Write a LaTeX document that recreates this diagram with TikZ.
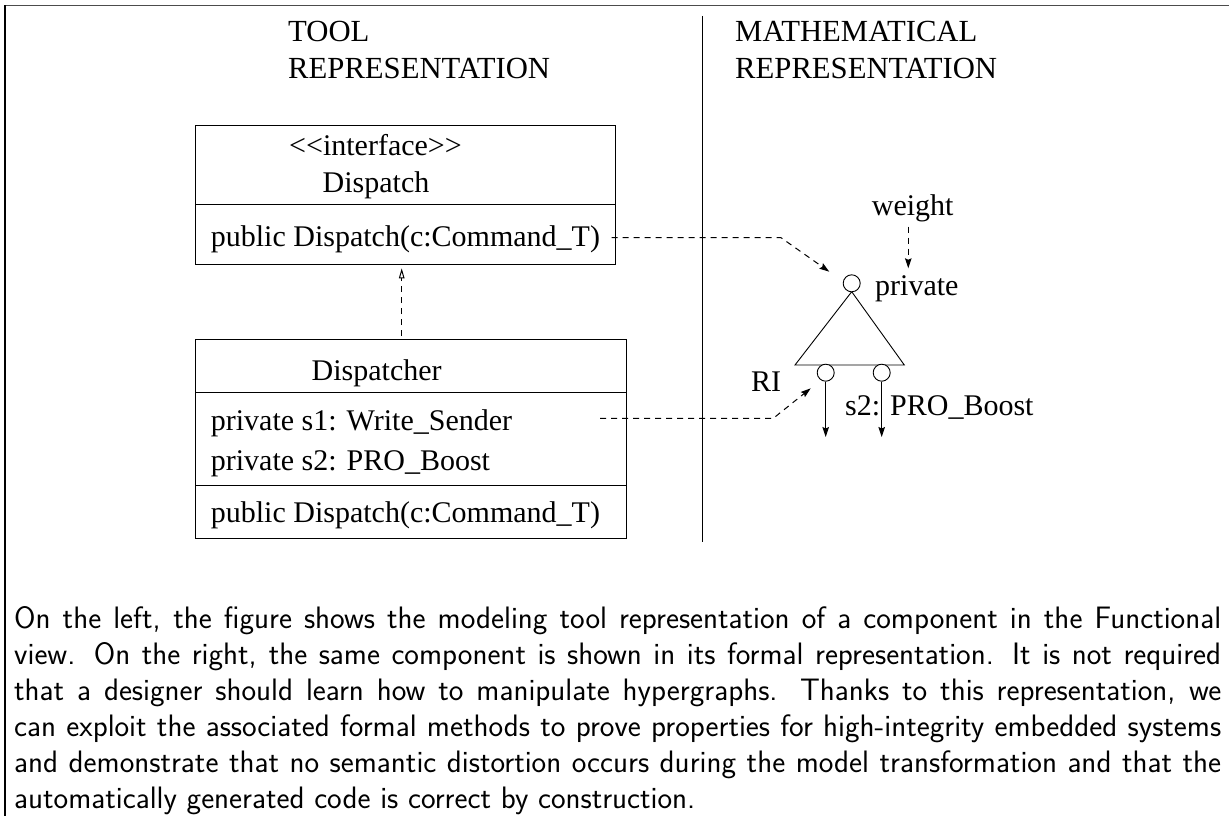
\documentclass[tikz,border=0pt]{standalone}
\usepackage{fontspec}
\setmainfont{Liberation Serif}
\usetikzlibrary{arrows.meta}
\newfontfamily\capfont{Latin Modern Sans}
\newcommand{\capl}[1]{\hbox to 1207pt{#1}}
\tikzset{
  x=1pt,y=-1pt,
  lbl/.style={anchor=base west,inner sep=0pt,font=\fontsize{30}{30}\selectfont},
  hdg/.style={anchor=base west,inner sep=0pt,font=\fontsize{30.7}{30}\selectfont},
  ctr/.style={anchor=base,inner sep=0pt,font=\fontsize{30}{30}\selectfont},
  capline/.style={anchor=base west,inner sep=0pt,font=\capfont\fontsize{31}{36}\selectfont},
  ln/.style={line width=1pt,draw=black},
  dsh/.style={line width=1pt,draw=black,dash pattern=on 6pt off 5pt},
  solidtip/.style={-{Stealth[length=10pt,width=6.5pt,inset=1.5pt]}},
  opentip/.style={-{Stealth[open,length=10pt,width=5.5pt,inset=0pt]}},
  port/.style={circle,draw=black,line width=0.9pt,minimum size=17pt,inner sep=0pt}
}
\begin{document}
\begin{tikzpicture}
\useasboundingbox (0,0) rectangle (1229,816);
\draw[line width=1.4pt,draw=black!70] (5,5.8) -- (1229,5.8);
\draw[line width=1.2pt] (5,5.2) -- (5,816);
\node[hdg] (t1) at (288,42) {TOOL};
\node[hdg] (t2) at (288,78) {REPRESENTATION};
\node[hdg] (t3) at (735,42) {MATHEMATICAL};
\node[hdg] (t4) at (735,78) {REPRESENTATION};
\draw[ln] (702,16) -- (702,542);
% box 1
\node[draw=black,line width=1pt,minimum width=420pt,minimum height=138.6pt,inner sep=0pt] (b1) at (405.3,195) {};
\draw[ln] (195.3,204.3) -- (615.3,204.3);
\node[ctr] (b1a) at (375.5,155) {<{}<interface>{}>};
\node[ctr] (b1b) at (376,192.7) {Dispatch};
\node[lbl] (b1c) at (210.7,246) {public Dispatch(c:Command\_T)};
% box 2
\node[draw=black,line width=1pt,minimum width=431.4pt,minimum height=199pt,inner sep=0pt] (b2) at (411,438.8) {};
\draw[ln] (195.3,392) -- (626.7,392);
\draw[ln] (195.3,485.7) -- (626.7,485.7);
\node[ctr] (b2a) at (376.7,380.7) {Dispatcher};
\node[lbl] (b2b) at (210.7,430.7) {private s1: Write\_Sender};
\node[lbl] (b2c) at (210.7,470.7) {private s2: PRO\_Boost};
\node[lbl] (b2d) at (210.7,522.7) {public Dispatch(c:Command\_T)};
% realisation
\coordinate (r0) at (401.7,336);
\coordinate (r1) at (401.7,268.3);
\draw[dsh,opentip] (r0) -- (r1);
% triangle
\coordinate (ta) at (851.7,291.7);
\coordinate (tl) at (795,365);
\coordinate (tr) at (904.3,365);
\draw[line width=0.9pt] (ta) -- (tl) -- (tr) -- cycle;
\node[port,fill=white] (p0) at (851.7,283.3) {};
\node[port,fill=white] (p1) at (825.7,372.7) {};
\node[port,fill=white] (p2) at (881.7,372.7) {};
\coordinate (e1) at (825.7,437);
\coordinate (e2) at (881.7,437);
\draw[line width=0.9pt,solidtip] (p1) -- (e1);
\draw[line width=0.9pt,solidtip] (p2) -- (e2);
\node[lbl] (w) at (871.7,215) {weight};
\node[lbl] (pv) at (875,295) {private};
\node[lbl] (ri) at (751,391.7) {RI};
\node[lbl] (s2) at (845,415) {s2: PRO\_Boost};
% dashed
\coordinate (w0) at (908.3,226.7);
\coordinate (w1) at (908.3,268.3);
\draw[dsh,solidtip] (w0) -- (w1);
\coordinate (d0) at (611.7,237.7);
\coordinate (d1) at (781,237.7);
\coordinate (d2) at (829.3,271.7);
\draw[dsh,solidtip] (d0) -- (d1) -- (d2);
\coordinate (f0) at (600,418.3);
\coordinate (f1) at (773.3,418.3);
\coordinate (f2) at (810.7,388.3);
\draw[dsh,solidtip] (f0) -- (f1) -- (f2);
% caption
\node[capline] (c1) at (14,628) {\capl{On the left, the figure shows the modeling tool representation of a component in the Functional}};
\node[capline] (c2) at (14,664) {\capl{view. On the right, the same component is shown in its formal representation. It is not required}};
\node[capline] (c3) at (14,700) {\capl{that a designer should learn how to manipulate hypergraphs. Thanks to this representation, we}};
\node[capline] (c4) at (14,736) {\capl{can exploit the associated formal methods to prove properties for high-integrity embedded systems}};
\node[capline] (c5) at (14,772) {\capl{and demonstrate that no semantic distortion occurs during the model transformation and that the}};
\node[capline] (c6) at (14,808) {automatically generated code is correct by construction.};
\end{tikzpicture}
\end{document}
